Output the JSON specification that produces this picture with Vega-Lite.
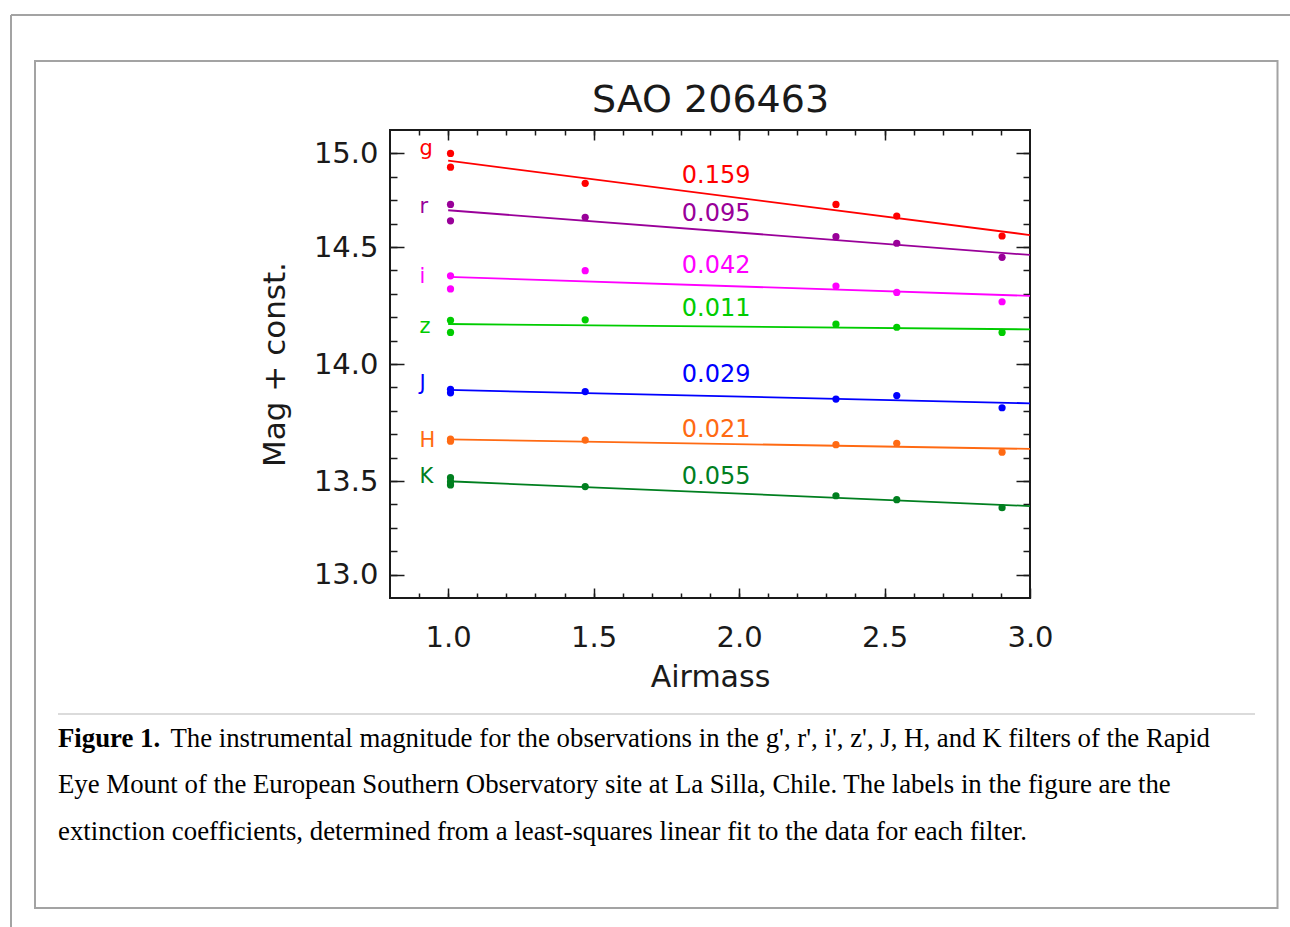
{
  "$schema": "https://vega.github.io/schema/vega-lite/v6.json",
  "width": 640,
  "height": 468,
  "autosize": {"type": "none"},
  "padding": {"left": 390, "top": 130, "right": 260, "bottom": 329},
  "background": "white",
  "config": {
    "view": {"stroke": "#1a1a1a", "strokeWidth": 2},
    "axis": {"domain": false, "grid": false, "tickColor": "#1a1a1a", "tickWidth": 1.5, "labelFont": "DejaVu Sans", "titleFont": "DejaVu Sans", "labelColor": "#1a1a1a", "titleColor": "#1a1a1a", "titleFontWeight": "normal"}
  },
  "datasets": {
    "obs": [
      {"filter": "g", "airmass": 1.008, "mag": 14.900}, {"filter": "g", "airmass": 1.008, "mag": 14.841}, {"filter": "g", "airmass": 1.471, "mag": 14.772}, {"filter": "g", "airmass": 2.333, "mag": 14.682}, {"filter": "g", "airmass": 2.542, "mag": 14.632}, {"filter": "g", "airmass": 2.904, "mag": 14.547},
      {"filter": "r", "airmass": 1.008, "mag": 14.682}, {"filter": "r", "airmass": 1.008, "mag": 14.612}, {"filter": "r", "airmass": 1.471, "mag": 14.627}, {"filter": "r", "airmass": 2.333, "mag": 14.544}, {"filter": "r", "airmass": 2.542, "mag": 14.516}, {"filter": "r", "airmass": 2.904, "mag": 14.456},
      {"filter": "i", "airmass": 1.008, "mag": 14.377}, {"filter": "i", "airmass": 1.008, "mag": 14.321}, {"filter": "i", "airmass": 1.471, "mag": 14.399}, {"filter": "i", "airmass": 2.333, "mag": 14.333}, {"filter": "i", "airmass": 2.542, "mag": 14.306}, {"filter": "i", "airmass": 2.904, "mag": 14.266},
      {"filter": "z", "airmass": 1.008, "mag": 14.187}, {"filter": "z", "airmass": 1.008, "mag": 14.135}, {"filter": "z", "airmass": 1.471, "mag": 14.189}, {"filter": "z", "airmass": 2.333, "mag": 14.170}, {"filter": "z", "airmass": 2.542, "mag": 14.157}, {"filter": "z", "airmass": 2.904, "mag": 14.135},
      {"filter": "J", "airmass": 1.008, "mag": 13.892}, {"filter": "J", "airmass": 1.008, "mag": 13.877}, {"filter": "J", "airmass": 1.471, "mag": 13.882}, {"filter": "J", "airmass": 2.333, "mag": 13.850}, {"filter": "J", "airmass": 2.542, "mag": 13.865}, {"filter": "J", "airmass": 2.904, "mag": 13.813},
      {"filter": "H", "airmass": 1.008, "mag": 13.679}, {"filter": "H", "airmass": 1.008, "mag": 13.670}, {"filter": "H", "airmass": 1.471, "mag": 13.675}, {"filter": "H", "airmass": 2.333, "mag": 13.655}, {"filter": "H", "airmass": 2.542, "mag": 13.661}, {"filter": "H", "airmass": 2.904, "mag": 13.623},
      {"filter": "K", "airmass": 1.008, "mag": 13.514}, {"filter": "K", "airmass": 1.008, "mag": 13.497}, {"filter": "K", "airmass": 1.008, "mag": 13.483}, {"filter": "K", "airmass": 1.471, "mag": 13.476}, {"filter": "K", "airmass": 2.333, "mag": 13.437}, {"filter": "K", "airmass": 2.542, "mag": 13.420}, {"filter": "K", "airmass": 2.904, "mag": 13.386}
    ],
    "fits": [
      {"filter": "g", "airmass": 1.0, "mag": 14.869}, {"filter": "g", "airmass": 3.0, "mag": 14.551},
      {"filter": "r", "airmass": 1.0, "mag": 14.657}, {"filter": "r", "airmass": 3.0, "mag": 14.466},
      {"filter": "i", "airmass": 1.0, "mag": 14.372}, {"filter": "i", "airmass": 3.0, "mag": 14.291},
      {"filter": "z", "airmass": 1.0, "mag": 14.171}, {"filter": "z", "airmass": 3.0, "mag": 14.148},
      {"filter": "J", "airmass": 1.0, "mag": 13.889}, {"filter": "J", "airmass": 3.0, "mag": 13.832},
      {"filter": "H", "airmass": 1.0, "mag": 13.678}, {"filter": "H", "airmass": 3.0, "mag": 13.637},
      {"filter": "K", "airmass": 1.0, "mag": 13.499}, {"filter": "K", "airmass": 3.0, "mag": 13.393}
    ],
    "letters": [
      {"filter": "g", "letter": "g", "airmass": 0.901, "mag": 14.893},
      {"filter": "r", "letter": "r", "airmass": 0.901, "mag": 14.647},
      {"filter": "i", "letter": "i", "airmass": 0.901, "mag": 14.345},
      {"filter": "z", "letter": "z", "airmass": 0.901, "mag": 14.131},
      {"filter": "J", "letter": "J", "airmass": 0.901, "mag": 13.889},
      {"filter": "H", "letter": "H", "airmass": 0.901, "mag": 13.644},
      {"filter": "K", "letter": "K", "airmass": 0.901, "mag": 13.493}
    ],
    "coefs": [
      {"filter": "g", "coef": "0.159", "airmass": 1.803, "mag": 14.772},
      {"filter": "r", "coef": "0.095", "airmass": 1.803, "mag": 14.612},
      {"filter": "i", "coef": "0.042", "airmass": 1.803, "mag": 14.390},
      {"filter": "z", "coef": "0.011", "airmass": 1.803, "mag": 14.205},
      {"filter": "J", "coef": "0.029", "airmass": 1.803, "mag": 13.922},
      {"filter": "H", "coef": "0.021", "airmass": 1.803, "mag": 13.689},
      {"filter": "K", "coef": "0.055", "airmass": 1.803, "mag": 13.487}
    ]
  },
  "resolve": {"axis": {"x": "independent", "y": "independent"}},
  "layer": [
    {
      "data": {"values": [{}]},
      "mark": {"type": "rect", "fill": null, "fillOpacity": 0, "stroke": "#a3a3a3", "strokeWidth": 2},
      "encoding": {
        "x": {"datum": -0.4203, "type": "quantitative", "scale": {"domain": [0.8, 3.0], "nice": false, "zero": false}, "axis": null},
        "x2": {"datum": 3.8508},
        "y": {"datum": 15.2949, "type": "quantitative", "scale": {"domain": [13.0, 15.0], "nice": false, "zero": false}, "axis": null},
        "y2": {"datum": 11.6752}
      }
    },
    {
      "data": {"values": [{}]},
      "mark": {"type": "rule", "stroke": "#a3a3a3", "strokeWidth": 2},
      "encoding": {
        "x": {"datum": -0.5028, "type": "quantitative", "axis": null},
        "x2": {"datum": 4.0},
        "y": {"datum": 15.4915, "type": "quantitative", "axis": null}
      }
    },
    {
      "data": {"values": [{}]},
      "mark": {"type": "rule", "stroke": "#a3a3a3", "strokeWidth": 2},
      "encoding": {
        "x": {"datum": -0.5028, "type": "quantitative", "axis": null},
        "y": {"datum": 15.4915, "type": "quantitative", "axis": null},
        "y2": {"datum": 11.5}
      }
    },
    {
      "data": {"values": [{}]},
      "mark": {"type": "rule", "stroke": "#cfcfcf", "strokeWidth": 1.5},
      "encoding": {
        "x": {"datum": -0.3413, "type": "quantitative", "axis": null},
        "x2": {"datum": 3.7734},
        "y": {"datum": 12.5043, "type": "quantitative", "axis": null}
      }
    },
    {
      "data": {"values": [{}]},
      "mark": {"type": "text", "text": "Figure 1.", "font": "Liberation Serif", "fontSize": 26.8, "fontWeight": "bold", "align": "left", "baseline": "alphabetic", "color": "#000000"},
      "encoding": {
        "x": {"datum": -0.3413, "type": "quantitative", "axis": null},
        "y": {"datum": 12.3632, "type": "quantitative", "axis": null}
      }
    },
    {
      "data": {"values": [{}]},
      "mark": {"type": "text", "text": "The instrumental magnitude for the observations in the g', r', i', z', J, H, and K filters of the Rapid", "font": "Liberation Serif", "fontSize": 26.8, "align": "right", "baseline": "alphabetic", "color": "#000000"},
      "encoding": {
        "x": {"datum": 3.6187, "type": "quantitative", "axis": null},
        "y": {"datum": 12.3632, "type": "quantitative", "axis": null}
      }
    },
    {
      "data": {"values": [{}]},
      "mark": {"type": "text", "text": "Eye Mount of the European Southern Observatory site at La Silla, Chile. The labels in the figure are the", "font": "Liberation Serif", "fontSize": 26.8, "align": "left", "baseline": "alphabetic", "color": "#000000"},
      "encoding": {
        "x": {"datum": -0.3413, "type": "quantitative", "axis": null},
        "y": {"datum": 12.1667, "type": "quantitative", "axis": null}
      }
    },
    {
      "data": {"values": [{}]},
      "mark": {"type": "text", "text": "extinction coefficients, determined from a least-squares linear fit to the data for each filter.", "font": "Liberation Serif", "fontSize": 26.8, "align": "left", "baseline": "alphabetic", "color": "#000000"},
      "encoding": {
        "x": {"datum": -0.3413, "type": "quantitative", "axis": null},
        "y": {"datum": 11.9658, "type": "quantitative", "axis": null}
      }
    },
    {
      "data": {"name": "fits"},
      "mark": {"type": "line", "strokeWidth": 1.8},
      "encoding": {
        "x": {"field": "airmass", "type": "quantitative", "scale": {"domain": [0.8, 3.0], "nice": false, "zero": false},
          "axis": {"orient": "bottom", "values": [0.9, 1.0, 1.1, 1.2, 1.3, 1.4, 1.5, 1.6, 1.7, 1.8, 1.9, 2.0, 2.1, 2.2, 2.3, 2.4, 2.5, 2.6, 2.7, 2.8, 2.9], "labels": false, "tickSize": -5, "title": null}},
        "y": {"field": "mag", "type": "quantitative", "scale": {"domain": [13.0, 15.0], "nice": false, "zero": false},
          "axis": {"orient": "left", "values": [13.1, 13.2, 13.3, 13.4, 13.5, 13.6, 13.7, 13.8, 13.9, 14.0, 14.1, 14.2, 14.3, 14.4, 14.5, 14.6, 14.7, 14.8, 14.9], "labels": false, "tickSize": -7, "title": null}},
        "color": {"field": "filter", "type": "nominal", "scale": {"domain": ["g", "r", "i", "z", "J", "H", "K"], "range": ["#ff0000", "#990099", "#ff00ff", "#00cc00", "#0000ff", "#ff6a13", "#007f1f"]}, "legend": null}
      }
    },
    {
      "data": {"name": "obs"},
      "mark": {"type": "circle", "size": 52, "opacity": 1},
      "encoding": {
        "x": {"field": "airmass", "type": "quantitative",
          "axis": {"orient": "bottom", "values": [1.0, 1.5, 2.0, 2.5, 3.0], "format": ".1f", "tickSize": -10, "labelPadding": 35, "labelFontSize": 29, "labelFlush": false, "title": "Airmass", "titleFontSize": 30, "titlePadding": 10}},
        "y": {"field": "mag", "type": "quantitative",
          "axis": {"orient": "left", "values": [14.9, 14.5, 14.0, 13.5, 13.1], "labelExpr": "datum.value > 14.8 ? '15.0' : (datum.value < 13.2 ? '13.0' : format(datum.value, '.1f'))", "tickSize": -14, "labelPadding": 26, "labelFontSize": 29, "labelFlush": false, "title": "Mag + const.", "titleFontSize": 31, "titlePadding": 22}},
        "color": {"field": "filter", "type": "nominal", "legend": null}
      }
    },
    {
      "data": {"name": "letters"},
      "mark": {"type": "text", "font": "DejaVu Sans", "fontSize": 21, "align": "left", "baseline": "alphabetic"},
      "encoding": {
        "x": {"field": "airmass", "type": "quantitative",
          "axis": {"orient": "top", "values": [1.0, 1.5, 2.0, 2.5], "labels": false, "tickSize": -10, "title": "SAO 206463", "titleFontSize": 38, "titlePadding": 10}},
        "y": {"field": "mag", "type": "quantitative",
          "axis": {"orient": "right", "values": [14.9, 14.5, 14.0, 13.5, 13.1], "labels": false, "tickSize": -14, "title": null}},
        "text": {"field": "letter"},
        "color": {"field": "filter", "type": "nominal", "legend": null}
      }
    },
    {
      "data": {"name": "coefs"},
      "mark": {"type": "text", "font": "DejaVu Sans", "fontSize": 24, "align": "left", "baseline": "alphabetic"},
      "encoding": {
        "x": {"field": "airmass", "type": "quantitative",
          "axis": {"orient": "top", "values": [0.9, 1.0, 1.1, 1.2, 1.3, 1.4, 1.5, 1.6, 1.7, 1.8, 1.9, 2.0, 2.1, 2.2, 2.3, 2.4, 2.5, 2.6, 2.7, 2.8, 2.9], "labels": false, "tickSize": -5, "title": null}},
        "y": {"field": "mag", "type": "quantitative",
          "axis": {"orient": "right", "values": [13.1, 13.2, 13.3, 13.4, 13.5, 13.6, 13.7, 13.8, 13.9, 14.0, 14.1, 14.2, 14.3, 14.4, 14.5, 14.6, 14.7, 14.8, 14.9], "labels": false, "tickSize": -7, "title": null}},
        "text": {"field": "coef"},
        "color": {"field": "filter", "type": "nominal", "legend": null}
      }
    }
  ]
}
